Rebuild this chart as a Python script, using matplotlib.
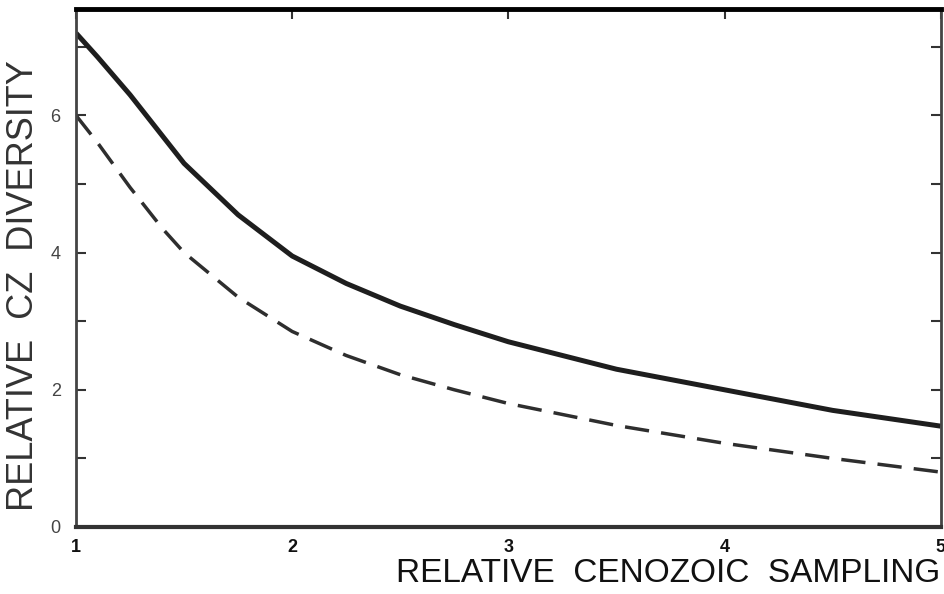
import numpy as np
import matplotlib
matplotlib.use("Agg")
import matplotlib.pyplot as plt

plt.rcParams['font.family'] = ['Liberation Sans', 'DejaVu Sans']

# values
sampling = [1.0, 1.1, 1.25, 1.4, 1.5, 1.75, 2.0, 2.25, 2.5, 2.75, 3.0, 3.5, 4.0, 4.5, 5.0]
diversity_solid = [7.2, 6.85, 6.3, 5.7, 5.3, 4.55, 3.95, 3.55, 3.22, 2.95, 2.7, 2.3, 2.0, 1.7, 1.47]
diversity_dash = [6.0, 5.6, 4.95, 4.35, 4.0, 3.35, 2.85, 2.5, 2.22, 2.0, 1.8, 1.48, 1.22, 1.0, 0.8]

ytick_vals = [0, 1, 2, 3, 4, 5, 6, 7]
ytick_labels = ['0', '', '2', '', '4', '', '6', '']
xtick_vals = [1, 2, 3, 4, 5]

fig = plt.figure(figsize=(9.44, 5.94), dpi=100)
ax = fig.add_axes([0.0805, 0.1128, 0.916, 0.872])

ax.plot(sampling, diversity_solid, color='#1e1e1e', lw=3.6, solid_capstyle='butt')
ax.plot(sampling, diversity_dash, color='#2e2e2e', lw=2.5, dashes=(7, 3.5))

ax.set_xlim(1, 5)
ax.set_ylim(0, 7.55)

ax.set_yticks(ytick_vals)
ax.set_yticklabels(ytick_labels)
ax.set_xticks(xtick_vals)
ax.set_xticklabels([str(v) for v in xtick_vals], fontweight='bold')

ax.tick_params(axis='y', direction='in', length=7, width=1.5, color='#333333',
               left=True, right=True, labelsize=13, labelcolor='#444444', pad=11)
ax.tick_params(axis='x', direction='in', length=7, width=1.5, color='#333333',
               top=True, bottom=False, labelsize=13, labelcolor='#111111', pad=9)

ax.spines['top'].set_linewidth(3.5)
ax.spines['top'].set_color('black')
ax.spines['bottom'].set_linewidth(3)
ax.spines['bottom'].set_color('#333333')
ax.spines['left'].set_linewidth(2)
ax.spines['left'].set_color('#444444')
ax.spines['right'].set_linewidth(2)
ax.spines['right'].set_color('#444444')

fig.text(0.996, 0.035, "RELATIVE  CENOZOIC  SAMPLING", ha='right', va='center',
         fontsize=24, color='#111111')
fig.text(0.025, 0.52, "RELATIVE  CZ  DIVERSITY", ha='center', va='center',
         rotation=90, fontsize=26, color='#333333')

fig.savefig("out.png", dpi=100)
